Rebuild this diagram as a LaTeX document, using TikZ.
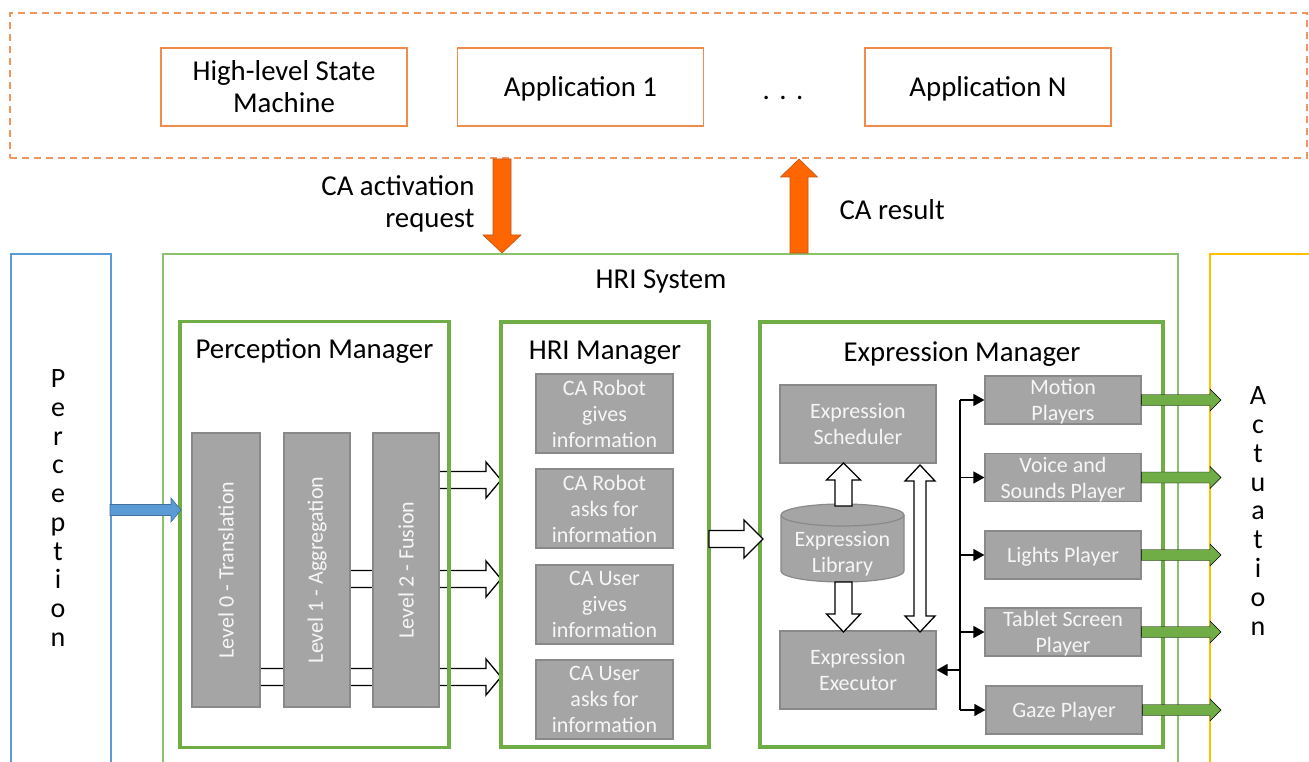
\documentclass[tikz,border=0pt]{standalone}
\usepackage{fontspec}
\setmainfont{Carlito}
\usetikzlibrary{calc,arrows.meta}
\pgfdeclarelayer{bg}
\pgfdeclarelayer{paper}
\pgfsetlayers{paper,bg,main}
\definecolor{dorange}{RGB}{241,150,95}
\definecolor{borange}{RGB}{240,140,75}
\definecolor{aorange}{RGB}{255,102,0}
\definecolor{aorangeline}{RGB}{190,85,20}
\definecolor{mgreen}{RGB}{112,173,71}
\definecolor{lgreen}{RGB}{140,194,110}
\definecolor{pblue}{RGB}{91,155,213}
\definecolor{pblueline}{RGB}{65,113,156}
\definecolor{ayellow}{RGB}{255,192,0}
\definecolor{gfill}{RGB}{165,165,165}
\definecolor{gline}{RGB}{137,137,137}
\definecolor{gtext}{RGB}{246,246,246}
% block arrow: [style]{from}{to}{shaft half}{head half}{head length}
\newcommand\blockarrow[6][]{%
  \path ($(#3)!#6!(#2)$) coordinate (babase);
  \draw[#1] ($(#2)!#4!90:(#3)$) -- ($(babase)!#4!-90:(#2)$) -- ($(babase)!#5!-90:(#2)$) -- (#3)
    -- ($(babase)!#5!90:(#2)$) -- ($(babase)!#4!90:(#2)$) -- ($(#2)!#4!-90:(#3)$) -- cycle;}
\newcommand\dblockarrow[6][]{%
  \path ($(#3)!#6!(#2)$) coordinate (dbb);
  \path ($(#2)!#6!(#3)$) coordinate (dba);
  \draw[#1] (#2) -- ($(dba)!#5!90:(#3)$) -- ($(dba)!#4!90:(#3)$) -- ($(dbb)!#4!-90:(#2)$)
    -- ($(dbb)!#5!-90:(#2)$) -- (#3) -- ($(dbb)!#5!90:(#2)$) -- ($(dbb)!#4!90:(#2)$)
    -- ($(dba)!#4!-90:(#3)$) -- ($(dba)!#5!-90:(#3)$) -- cycle;}
\begin{document}
\begin{tikzpicture}[x=1pt,y=-1pt,
  big/.style={font=\fontsize{28.8}{32}\selectfont, text depth=0pt},
  small/.style={font=\fontsize{22}{26}\selectfont, text depth=0pt},
  obox/.style={draw=borange, line width=1.6pt, fill=white, inner sep=0pt, big, align=center, minimum width=246pt, minimum height=78pt},
  mgr/.style={draw=mgreen, line width=3.3pt, inner sep=0pt},
  gbox/.style={draw=gline, fill=gfill, line width=1.2pt, inner sep=0pt, small, text=gtext, align=center},
  warrow/.style={draw=black, fill=white, line width=1.3pt, line join=miter},
  garrow/.style={fill=mgreen},
  oarrow/.style={fill=aorange, draw=aorangeline, line width=0.6pt, line join=miter},
  barrow/.style={fill=pblue, draw=pblueline, line width=0.6pt, line join=miter},
  ptr/.style={-{Triangle[length=11pt,width=12pt]}, line width=1.3pt}]
\useasboundingbox (0,0) rectangle (1309,762);
\begin{pgfonlayer}{paper}
\fill[white] (0,0) rectangle (1309,762);
\end{pgfonlayer}

% ---------- top application layer ----------
\node[draw=dorange, line width=1.5pt, dash pattern=on 7pt off 5pt, minimum width=1297pt, minimum height=145pt, inner sep=0pt] (apps) at (658.5,85.5) {};
\node[obox] (hsm) at (284,87) {High-level State\\Machine};
\node[obox] (app1) at (580.5,87) {Application 1};
\node[big, anchor=base] (dots) at (783,100) {.\,\,.\,\,.};
\node[obox] (appn) at (988,87) {Application N};

% ---------- outer boxes ----------
\node[draw=pblue, line width=1.5pt, minimum width=100pt, minimum height=560pt, anchor=north west, inner sep=0pt] (percbox) at (10,253) {};
\node[draw=lgreen, line width=1.5pt, minimum width=1015pt, minimum height=560pt, anchor=north west, inner sep=0pt] (hrisys) at (162,253) {};
\node[draw=ayellow, line width=1.5pt, minimum width=140pt, minimum height=560pt, anchor=north west, inner sep=0pt] (actbox) at (1209,253) {};
\node[big] (hrititle) at (661,279) {HRI System};
\node[font=\fontsize{28}{28.7}\selectfont, align=center] (ptxt) at (58,508) {P\\e\\r\\c\\e\\p\\t\\i\\o\\n};
\node[font=\fontsize{28}{28.8}\selectfont, align=center] (atxt) at (1258,511) {A\\c\\t\\u\\a\\t\\i\\o\\n};

% ---------- orange arrows ----------
\coordinate (reqtop) at (502,159);
\coordinate (reqbot) at (502,253);
\coordinate (restop) at (799,159);
\coordinate (resbot) at (799,253);
\blockarrow[oarrow]{reqtop}{reqbot}{9pt}{19pt}{18pt}
\blockarrow[oarrow]{resbot}{restop}{9pt}{18.5pt}{18pt}
\node[big, align=right, anchor=east] (reqlbl) at (478,202) {CA activation\\request};
\node[big, anchor=west] (reslbl) at (836,210) {CA result};

% ---------- Perception manager ----------
\node[mgr, minimum width=269pt, minimum height=426pt] (pm) at (314.5,534.5) {};
\node[big] (pmt) at (314.5,349) {Perception Manager};
\node[gbox, minimum width=68pt, minimum height=274pt] (l0) at (226,570) {\rotatebox{90}{Level 0 - Translation}};
\node[gbox, minimum width=66pt, minimum height=274pt] (l1) at (317,570) {\rotatebox{90}{Level 1 - Aggregation}};
\node[gbox, minimum width=66pt, minimum height=274pt] (l2) at (406,570) {\rotatebox{90}{Level 2 - Fusion}};

% ---------- HRI manager ----------
\node[mgr, minimum width=208pt, minimum height=425pt] (hm) at (605,534.5) {};
\node[big] (hmt) at (605,350) {HRI Manager};
\node[gbox, minimum width=137pt, minimum height=79pt] (ca1) at (604.5,413.5) {CA Robot\\gives\\information};
\node[gbox, minimum width=137pt, minimum height=79pt] (ca2) at (604.5,508.5) {CA Robot\\asks for\\information};
\node[gbox, minimum width=137pt, minimum height=79pt] (ca3) at (604.5,604.5) {CA User\\gives\\information};
\node[gbox, minimum width=137pt, minimum height=79pt] (ca4) at (604.5,699.5) {CA User\\asks for\\information};

% perception -> perception manager
\coordinate (pin) at (110,510);
\coordinate (pout) at (181,510);
\blockarrow[barrow]{pin}{pout}{5.5pt}{12pt}{10pt}

% levels -> HRI manager (behind the level boxes)
\coordinate (a1s) at (439,480);  \coordinate (a1e) at (501,480);
\coordinate (a2s) at (350,579);  \coordinate (a2e) at (501,579);
\coordinate (a3s) at (260,677);  \coordinate (a3e) at (501,677);
\begin{pgfonlayer}{bg}
\blockarrow[warrow]{a1s}{a1e}{8.5pt}{18pt}{15pt}
\blockarrow[warrow]{a2s}{a2e}{8.5pt}{18pt}{15pt}
\blockarrow[warrow]{a3s}{a3e}{8.5pt}{18pt}{15pt}
\end{pgfonlayer}

% ---------- Expression manager ----------
\node[mgr, minimum width=403pt, minimum height=425pt] (em) at (961.5,534.5) {};
\node[big] (emt) at (962,352) {Expression Manager};
\node[gbox, minimum width=156pt, minimum height=78pt] (sch) at (858,424) {Expression\\Scheduler};
\node[gbox, minimum width=156pt, minimum height=78pt] (exe) at (858,670) {Expression\\Executor};
% library cylinder
\filldraw[fill=gfill, draw=gline, line width=1.2pt] (781,515) -- (781,571) arc (180:360:61.5pt and 11pt) -- (904,515) arc (0:180:61.5pt and 11pt) -- cycle;
\draw[gline, line width=1.2pt] (781,515) arc (180:360:61.5pt and 11pt);
\node[small, text=gtext, align=center, inner sep=0pt] (lib) at (842.5,552) {Expression\\Library};

% hri manager -> expression manager
\coordinate (hx1) at (709,539);
\coordinate (hx2) at (763,539);
\blockarrow[warrow]{hx1}{hx2}{8.5pt}{19pt}{19pt}

% library <-> scheduler / executor
\coordinate (lu1) at (843.5,506);
\coordinate (lu2) at (843.5,463);
\coordinate (ld1) at (843.5,582);
\coordinate (ld2) at (843.5,632);
\blockarrow[warrow]{lu1}{lu2}{8.5pt}{17pt}{17pt}
\blockarrow[warrow]{ld1}{ld2}{8.5pt}{17pt}{18pt}
\coordinate (dbt) at (920,465);
\coordinate (dbb2) at (920,632);
\dblockarrow[warrow]{dbt}{dbb2}{6pt}{15pt}{16pt}

% players
\node[gbox, minimum width=156pt, minimum height=48pt] (mot) at (1063,400) {Motion\\Players};
\node[gbox, minimum width=156pt, minimum height=48pt] (voi) at (1063,477.5) {Voice and\\Sounds Player};
\node[gbox, minimum width=156pt, minimum height=48pt] (lig) at (1063,555) {Lights Player};
\node[gbox, minimum width=156pt, minimum height=48pt] (tab) at (1063,632) {Tablet Screen\\Player};
\node[gbox, minimum width=156pt, minimum height=48pt] (gaz) at (1064,710) {Gaze Player};

\coordinate (bt) at (960,400);
\coordinate (bb) at (960,710);
\draw[line width=1.3pt] (bt) -- (bb);
\foreach \p in {mot,voi,lig,tab,gaz}{\draw[ptr] (\p.west -| bt) -- (\p.west);}
\draw[ptr] (exe.east -| bt) -- (exe.east);

% green actuation arrows
\coordinate (atip) at (1221,0);
\foreach \p in {mot,voi,lig,tab,gaz}{
  \coordinate (\p g) at (\p.east -| atip);
  \blockarrow[garrow]{\p.east}{\p g}{5.5pt}{11pt}{11pt}
}
\end{tikzpicture}
\end{document}
